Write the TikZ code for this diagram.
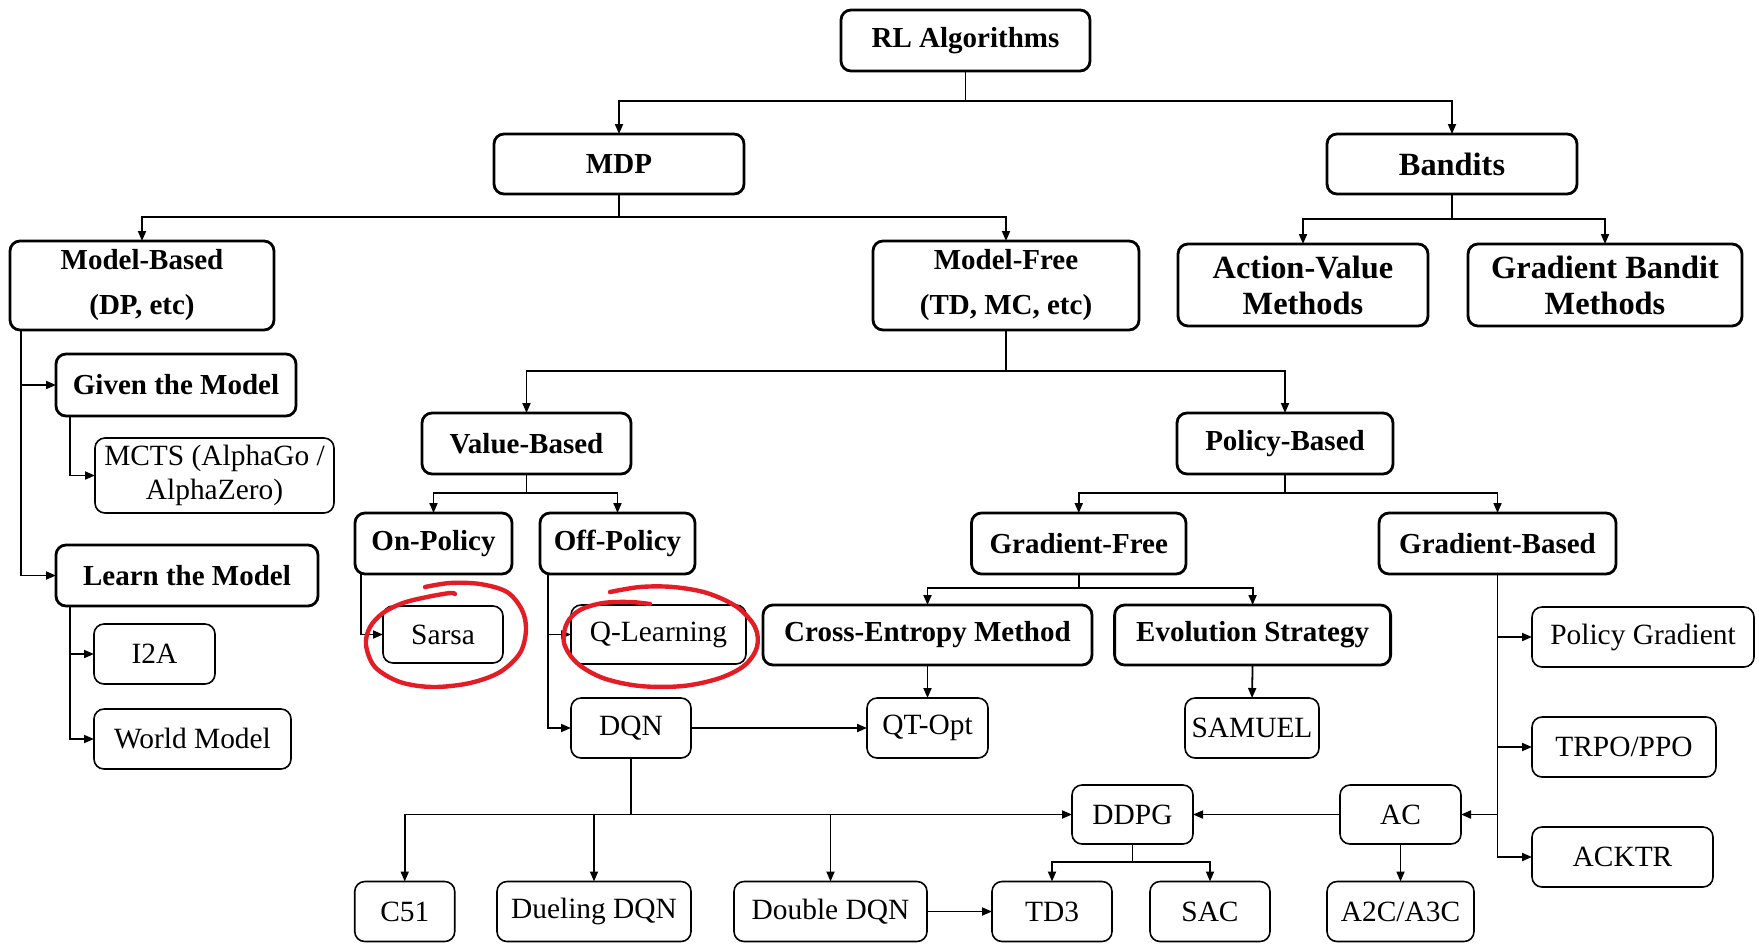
\documentclass[tikz,border=0pt]{standalone}
\usepackage{fontspec}
\setmainfont{Liberation Serif}
\usetikzlibrary{arrows.meta,calc}
\definecolor{penred}{RGB}{228,28,38}
\tikzset{
  box/.style={draw=black, rounded corners=5pt, inner sep=0pt, outer sep=0pt, align=center},
  catbox/.style={box, line width=1.4pt, font=\fontsize{14.5}{22.5}\selectfont\bfseries},
  bigbox/.style={box, line width=1.4pt, font=\fontsize{16.2}{18}\selectfont\bfseries},
  leafbox/.style={box, line width=0.8pt, font=\fontsize{14.7}{17}\selectfont},
  wh/.style 2 args={minimum width=#1*0.5pt, minimum height=#2*0.5pt},
  arr/.style={line width=0.9pt, -{Triangle[length=5pt,width=4pt]}},
  redpen/.style={draw=penred, line width=2.2pt, line cap=round, line join=round}
}
\begin{document}
\begin{tikzpicture}[x=0.5pt,y=-0.5pt]
\useasboundingbox (0,0) rectangle (1759,943);
% category nodes
\node[catbox, wh={249}{61}] (RL) at (965.5,40.5) {RL Algorithms};
\node[catbox, wh={250}{60}] (MDP) at (619,164) {MDP};
\node[bigbox, wh={250}{60}] (Bandits) at (1452,164) {Bandits};
\node[catbox, wh={264}{89}] (MB) at (142,285.5) {Model-Based\\(DP, etc)};
\node[catbox, wh={266}{89}] (MF) at (1006,285.5) {Model-Free\\(TD, MC, etc)};
\node[bigbox, wh={250}{82}] (AV) at (1303,285) {Action-Value\\Methods};
\node[bigbox, wh={274}{82}] (GBM) at (1605,285) {Gradient Bandit\\Methods};
\node[catbox, wh={240}{62}] (Given) at (176,385) {Given the Model};
\node[catbox, wh={209}{61}] (VB) at (526.5,443.5) {Value-Based};
\node[catbox, wh={216}{61}] (PB) at (1285,443.5) {Policy-Based};
\node[catbox, wh={262}{61}] (Learn) at (187,575.5) {Learn the Model};
\node[catbox, wh={157}{61}] (On) at (433.5,543.5) {On-Policy};
\node[catbox, wh={155}{61}] (Off) at (617.5,543.5) {Off-Policy};
\node[catbox, wh={214.5}{61}] (GF) at (1078.75,543.5) {Gradient-Free};
\node[catbox, wh={237}{61}] (GBd) at (1497.5,543.5) {Gradient-Based};
\node[catbox, wh={329}{60}] (CEM) at (927.5,635) {Cross-Entropy Method};
\node[catbox, wh={276}{60}] (ES) at (1252.6,635) {Evolution Strategy};
% leaf nodes
\node[leafbox, wh={239}{75}] (MCTS) at (214.5,475.5) {MCTS (AlphaGo /\\AlphaZero)};
\node[leafbox, wh={121}{60}] (I2A) at (154.5,654) {I2A};
\node[leafbox, wh={197}{60}] (WM) at (192.5,739) {World Model};
\node[leafbox, wh={120}{57}] (Sarsa) at (443,634.5) {Sarsa};
\node[leafbox, wh={175}{59}] (QL) at (658.5,634.5) {Q-Learning};
\node[leafbox, wh={222}{60}] (PG) at (1643,637) {Policy Gradient};
\node[leafbox, wh={184}{60}] (TRPO) at (1624,747) {TRPO/PPO};
\node[leafbox, wh={181}{60}] (ACKTR) at (1622.5,857) {ACKTR};
\node[leafbox, wh={120}{60}] (DQN) at (631,728) {DQN};
\node[leafbox, wh={121}{60}] (QT) at (927.5,728) {QT-Opt};
\node[leafbox, wh={134}{60}] (SAM) at (1252,728) {SAMUEL};
\node[leafbox, wh={121}{59}] (DDPG) at (1132.5,814.5) {DDPG};
\node[leafbox, wh={121}{59}] (AC) at (1400.5,814.5) {AC};
\node[leafbox, wh={120}{60}] (TD3) at (1052,911.5) {TD3};
\node[leafbox, wh={120}{60}] (SAC) at (1210,911.5) {SAC};
\node[leafbox, wh={147}{60}] (A2C) at (1400.5,911.5) {A2C/A3C};
\node[leafbox, wh={100}{60}] (C51) at (404.75,911.5) {C51};
\node[leafbox, wh={194}{60}] (Duel) at (594,911.5) {Dueling DQN};
\node[leafbox, wh={193}{60}] (Double) at (830.5,911.5) {Double DQN};
% connectors
\draw[arr] (RL.south) -- ++(0,30) -| (MDP.north);
\draw[arr] (RL.south) -- ++(0,30) -| (Bandits.north);
\draw[arr] (MDP.south) -- ++(0,23) -| (MB.north);
\draw[arr] (MDP.south) -- ++(0,23) -| (MF.north);
\draw[arr] (Bandits.south) -- ++(0,25) -| (AV.north);
\draw[arr] (Bandits.south) -- ++(0,25) -| (GBM.north);
\draw[arr] ([xshift=5.5pt]MB.south west) |- (Given.west);
\draw[arr] ([xshift=5.5pt]MB.south west) |- (Learn.west);
\draw[arr] ([xshift=7pt]Given.south west) |- (MCTS.west);
\draw[arr] ([xshift=7pt]Learn.south west) |- (I2A.west);
\draw[arr] ([xshift=7pt]Learn.south west) |- (WM.west);
\draw[arr] (MF.south) -- ++(0,41) -| (VB.north);
\draw[arr] (MF.south) -- ++(0,41) -| (PB.north);
\draw[arr] (VB.south) -- ++(0,19) -| (On.north);
\draw[arr] (VB.south) -- ++(0,19) -| (Off.north);
\draw[arr] (PB.south) -- ++(0,19) -| (GF.north);
\draw[arr] (PB.south) -- ++(0,19) -| (GBd.north);
\draw[arr] (GF.south) -- ++(0,14) -| (CEM.north);
\draw[arr] (GF.south) -- ++(0,14) -| (ES.north);
\draw[arr] ([xshift=3pt]On.south west) |- (Sarsa.west);
\draw[arr] ([xshift=4pt]Off.south west) |- (QL.west);
\draw[arr] ([xshift=4pt]Off.south west) |- (DQN.west);
\draw[arr] (DQN.east) -- (QT.west);
\draw[arr] (CEM.south) -- (QT.north);
\draw[arr] (ES.south) -- (SAM.north);
\draw[arr] (DQN.south) |- (DDPG.west);
\draw[arr] (DQN.south |- DDPG.west) -| (C51.north);
\draw[arr] (DQN.south |- DDPG.west) -| (Duel.north);
\draw[arr] (DQN.south |- DDPG.west) -| (Double.north);
\draw[arr] (AC.west) -- (DDPG.east);
\draw[arr] (AC.south) -- (A2C.north);
\draw[arr] (DDPG.south) -- ++(0,18) -| (TD3.north);
\draw[arr] (DDPG.south) -- ++(0,18) -| (SAC.north);
\draw[arr] (Double.east) -- (TD3.west);
\draw[arr] (GBd.south) |- (PG.west);
\draw[arr] (GBd.south) |- (TRPO.west);
\draw[arr] (GBd.south) |- (ACKTR.west);
\draw[arr] (GBd.south) |- (AC.east);
% red hand-drawn circles
\draw[redpen] plot[smooth, tension=0.55] coordinates {(425,587) (450,583) (480,584) (507,592) (522,610) (526,630) (520,653) (500,672) (470,683) (433,687) (400,682) (375,667) (366,645) (370,627) (383,613) (403,603) (427,597) (450,593) (455,594)};
\draw[redpen] plot[smooth, tension=0.55] coordinates {(610,592) (640,587) (673,587) (707,593) (737,607) (755,627) (757,647) (745,665) (720,678) (683,686) (640,686) (603,678) (577,663) (564,643) (567,623) (580,610) (603,603) (630,602) (650,604)};
\end{tikzpicture}
\end{document}
